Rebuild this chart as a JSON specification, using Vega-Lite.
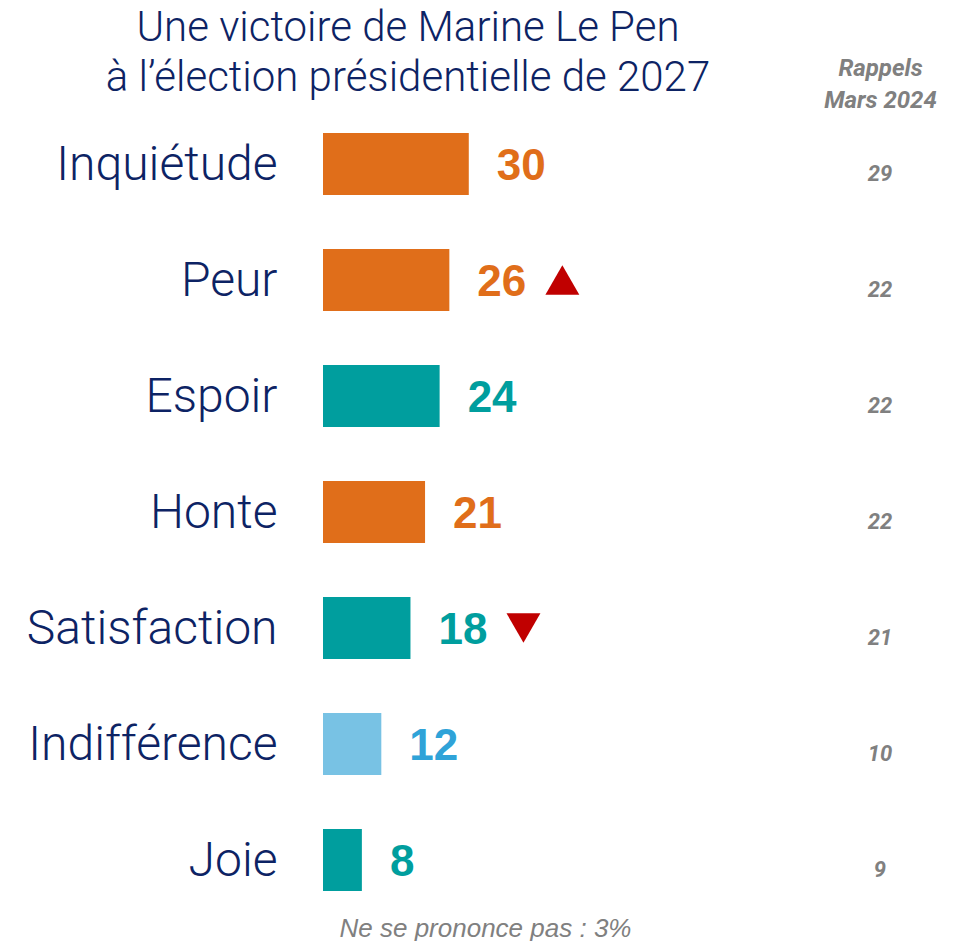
{
  "$schema": "https://vega.github.io/schema/vega-lite/v6.json",
  "autosize": "none",
  "width": 640,
  "height": 812,
  "padding": {"left": 323, "top": 106, "right": 0, "bottom": 23},
  "background": "white",
  "config": {"view": {"stroke": null}},
  "title": {
    "text": ["Une victoire de Marine Le Pen", "à l’élection présidentielle de 2027"],
    "font": "Roboto",
    "fontSize": 42,
    "fontWeight": 300,
    "color": "#0D2364",
    "anchor": "middle",
    "frame": "group",
    "dx": -235,
    "dy": 96,
    "lineHeight": 50,
    "baseline": "bottom",
    "offset": 10
  },
  "data": {
    "values": [
      {"cat": "Inquiétude", "v": 30, "r": 29, "grp": "neg", "trend": null},
      {"cat": "Peur", "v": 26, "r": 22, "grp": "neg", "trend": "up"},
      {"cat": "Espoir", "v": 24, "r": 22, "grp": "pos", "trend": null},
      {"cat": "Honte", "v": 21, "r": 22, "grp": "neg", "trend": null},
      {"cat": "Satisfaction", "v": 18, "r": 21, "grp": "pos", "trend": "down"},
      {"cat": "Indifférence", "v": 12, "r": 10, "grp": "neu", "trend": null},
      {"cat": "Joie", "v": 8, "r": 9, "grp": "pos", "trend": null}
    ]
  },
  "encoding": {
    "y": {
      "field": "cat",
      "type": "nominal",
      "sort": null,
      "scale": {"paddingInner": 0.466, "paddingOuter": 0.233},
      "axis": {
        "title": null,
        "ticks": false,
        "domain": false,
        "labelFont": "Roboto",
        "labelFontSize": 48,
        "labelFontWeight": 300,
        "labelColor": "#0D2364",
        "labelPadding": 46,
        "labelOffset": 2,
        "labelLimit": 0
      }
    }
  },
  "layer": [
    {
      "mark": {"type": "bar"},
      "encoding": {
        "x": {
          "field": "v",
          "type": "quantitative",
          "scale": {"domain": [0, 131.7], "nice": false, "zero": true},
          "axis": {
            "orient": "bottom",
            "labels": false,
            "ticks": false,
            "domain": false,
            "grid": false,
            "title": "Ne se prononce pas : 3%",
            "titleFont": "Liberation Sans",
            "titleFontStyle": "italic",
            "titleFontWeight": "normal",
            "titleFontSize": 26,
            "titleColor": "#808080",
            "titleX": 162,
            "titleY": 18,
            "titleAlign": "center",
            "titleBaseline": "alphabetic"
          }
        },
        "color": {
          "field": "grp",
          "type": "nominal",
          "scale": {"domain": ["neg", "pos", "neu"], "range": ["#E06E1A", "#009E9E", "#78C2E4"]},
          "legend": null
        }
      }
    },
    {
      "mark": {"type": "text", "align": "left", "baseline": "middle", "dx": 28, "dy": 3, "font": "Liberation Sans", "fontWeight": "bold", "fontSize": 44},
      "encoding": {
        "x": {"field": "v", "type": "quantitative", "axis": null},
        "text": {"field": "v", "type": "quantitative"},
        "color": {
          "field": "grp",
          "type": "nominal",
          "scale": {"domain": ["neg", "pos", "neu"], "range": ["#E06E1A", "#009E9E", "#2FA3D8"]},
          "legend": null
        }
      }
    },
    {
      "transform": [{"filter": "datum.trend != null"}],
      "mark": {"type": "point", "filled": true, "opacity": 1, "size": 1150, "xOffset": 113, "color": "#C00000", "strokeWidth": 0},
      "encoding": {
        "x": {"field": "v", "type": "quantitative", "axis": null},
        "shape": {
          "field": "trend",
          "type": "nominal",
          "scale": {"domain": ["up", "down"], "range": ["triangle-up", "triangle-down"]},
          "legend": null
        }
      }
    },
    {
      "mark": {"type": "text", "align": "center", "baseline": "middle", "dy": 10, "font": "Roboto", "fontStyle": "italic", "fontWeight": "bold", "fontSize": 22, "color": "#808080"},
      "encoding": {
        "x": {
          "datum": 114.6,
          "type": "quantitative",
          "axis": {
            "orient": "top",
            "labels": false,
            "ticks": false,
            "domain": false,
            "grid": false,
            "title": ["Rappels", "Mars 2024"],
            "titleFont": "Roboto",
            "titleFontStyle": "italic",
            "titleFontWeight": "bold",
            "titleFontSize": 24,
            "titleColor": "#808080",
            "titleX": 557,
            "titleY": -31,
            "titleLineHeight": 32,
            "titleAlign": "center",
            "titleBaseline": "alphabetic"
          }
        },
        "text": {"field": "r", "type": "quantitative"}
      }
    }
  ],
  "resolve": {"axis": {"x": "independent"}, "scale": {"color": "independent"}}
}
